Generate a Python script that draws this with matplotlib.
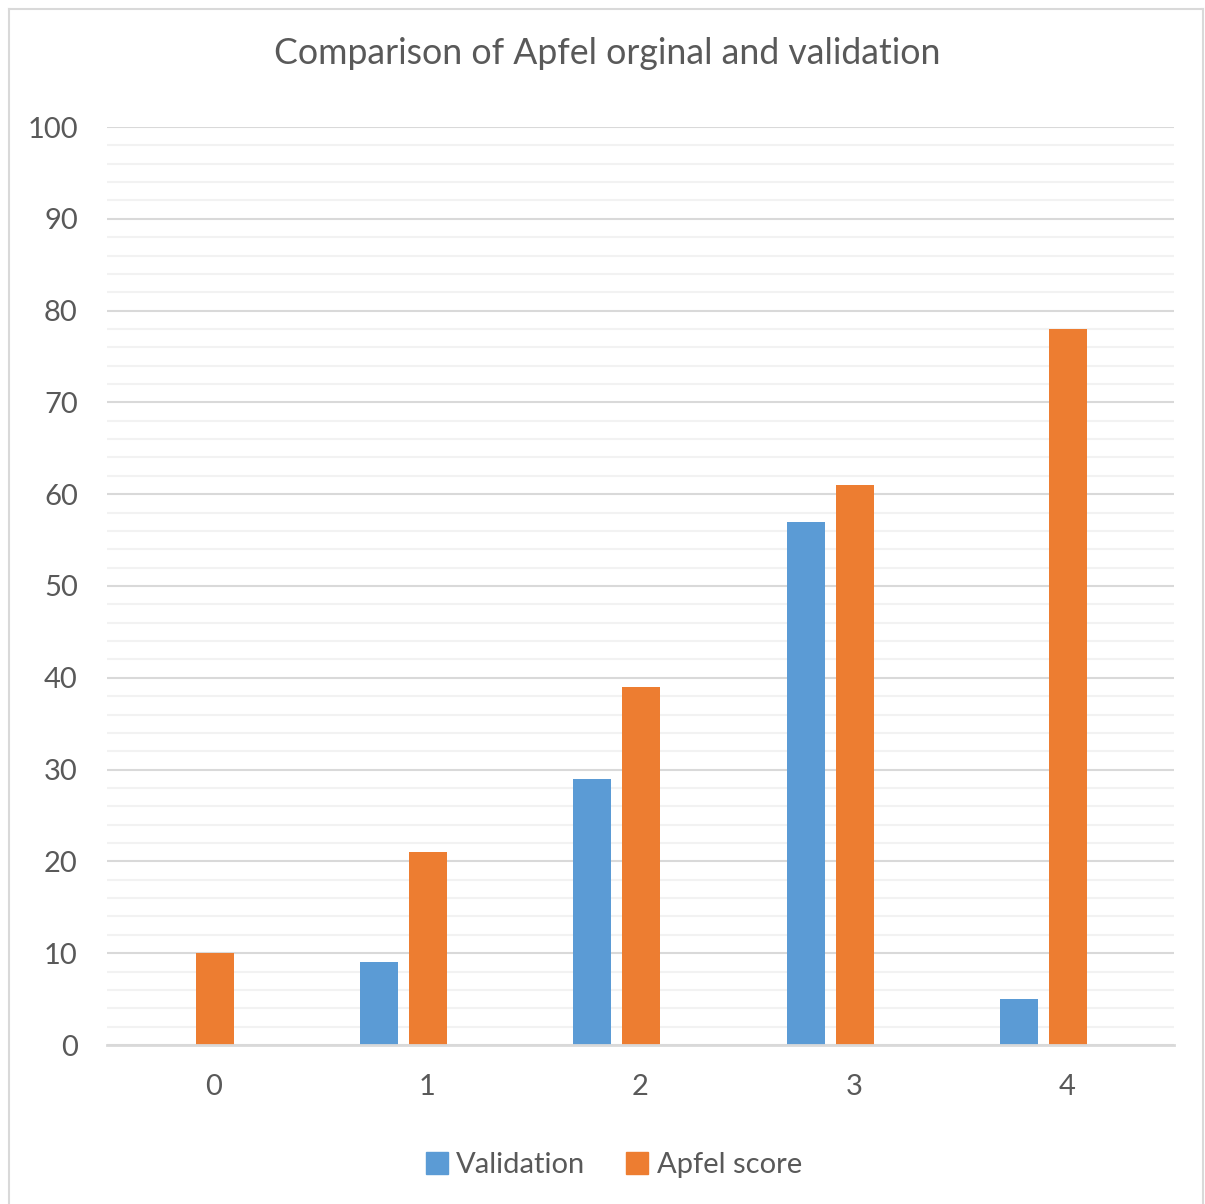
import matplotlib
matplotlib.use("Agg")
import matplotlib.pyplot as plt
from matplotlib.patches import Rectangle
from matplotlib.lines import Line2D
import numpy as np

categories = ["0", "1", "2", "3", "4"]
validation = [0, 9, 29, 57, 5]
apfel = [10, 21, 39, 61, 78]
series_names = ["Validation", "Apfel score"]
colors = ["#5B9BD5", "#ED7D31"]
title = "Comparison of Apfel orginal and validation"

W, H = 1205, 1204
fig = plt.figure(figsize=(W / 100, H / 100), dpi=100)
plt.rcParams["font.family"] = ["Lato", "DejaVu Sans"]
text_color = "#595959"

# plot area in pixel units
left, right, top, bottom = 107, 1174, 127, 1045
ax = fig.add_axes([left / W, (H - bottom) / H, (right - left) / W, (bottom - top) / H])

x = np.arange(len(categories))
bar_w = 0.178
offset = 0.225
ax.bar(x[1:] - offset, validation[1:], width=bar_w, color=colors[0], zorder=3)
ax.bar(x + 0.004, apfel, width=bar_w, color=colors[1], zorder=3)

ax.set_xlim(-0.5, len(categories) - 0.5)
ax.set_ylim(0, 100)
ax.set_yticks(np.arange(0, 101, 10))
ax.set_yticks(np.arange(0, 101, 2), minor=True)
ax.set_xticks(x)
ax.set_xticklabels(categories)

ax.grid(axis="y", which="minor", color="#F2F2F2", linewidth=1.5, zorder=0)
ax.grid(axis="y", which="major", color="#D9D9D9", linewidth=1.5, zorder=1)
ax.tick_params(axis="both", which="both", length=0, colors=text_color, labelsize=21)
ax.tick_params(axis="y", pad=21)
ax.tick_params(axis="x", pad=21)
for s in ["top", "right", "left"]:
    ax.spines[s].set_visible(False)
ax.spines["bottom"].set_color("#D9D9D9")
ax.spines["bottom"].set_linewidth(2)
ax.spines["bottom"].set_zorder(4)

fig.text(607 / W, 1 - 53 / H, title, ha="center", va="center", fontsize=25.7, color=text_color)

# legend
handles = [Rectangle((0, 0), 1, 1, color=c) for c in colors]
leg = fig.legend(handles, series_names, loc="center", bbox_to_anchor=(614 / W, 1 - 1165 / H),
                 ncol=2, frameon=False, fontsize=21, labelcolor=text_color,
                 handlelength=0.75, handleheight=0.75, handletextpad=0.3, columnspacing=1.4)

# chart border
fig.add_artist(Line2D([8.5 / W, 8.5 / W], [0, 1 - 8.5 / H], transform=fig.transFigure, color="#D9D9D9", linewidth=1.5))
fig.add_artist(Line2D([8.5 / W, 1203 / W], [1 - 8.5 / H, 1 - 8.5 / H], transform=fig.transFigure, color="#D9D9D9", linewidth=1.5))
fig.add_artist(Line2D([1203 / W, 1203 / W], [0, 1 - 8.5 / H], transform=fig.transFigure, color="#D9D9D9", linewidth=1.5))

fig.savefig("out.png", dpi=100, facecolor="white")
